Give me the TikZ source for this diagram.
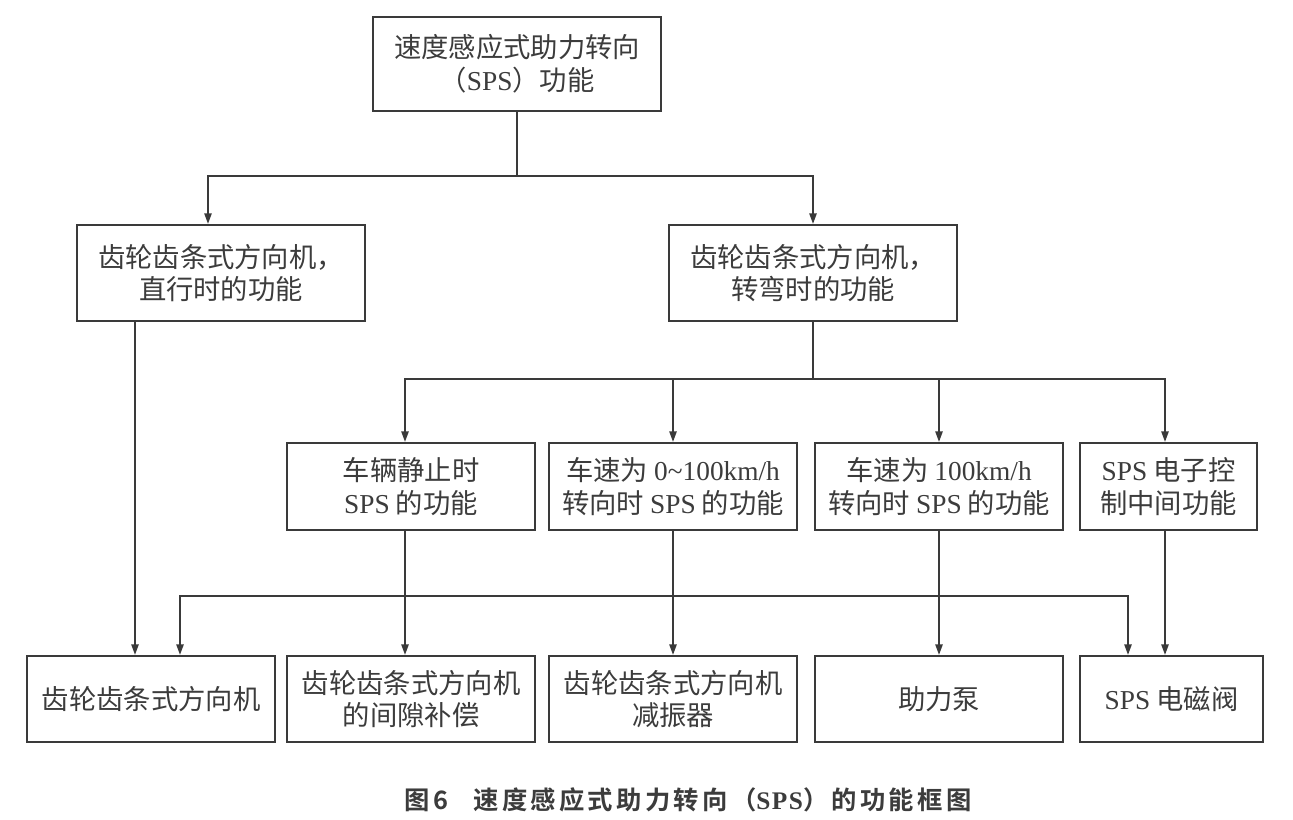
\documentclass[tikz,border=0pt]{standalone}
\usepackage{fontspec}
\setmainfont{Noto Sans CJK SC}
\newfontfamily\cjkb[LetterSpace=13]{Noto Sans CJK SC Bold}
\newfontfamily\latf{Liberation Serif}
\newfontfamily\latfb[LetterSpace=6]{Liberation Serif Bold}
\usetikzlibrary{arrows.meta}
\definecolor{ink}{HTML}{3A3A3A}
\definecolor{txt}{HTML}{3C3C3C}
\tikzset{
  fbox/.style={draw=ink, line width=1.6pt, fill=white, align=center, inner sep=0pt,
    text=txt, font=\fontsize{20.5pt}{24.5pt}\selectfont},
  conn/.style={draw=ink, line width=1.3pt},
  arr/.style={conn, -{Triangle[length=8pt,width=5.5pt]}},
  darr/.style={conn, {Triangle[length=8pt,width=5.5pt]}-{Triangle[length=8pt,width=5.5pt]}}
}
\begin{document}
\begin{tikzpicture}[x=0.75pt,y=-0.75pt]
\useasboundingbox[fill=white] (0,0) rectangle (1293,820);
% level 1
\node[fbox, minimum width=288*0.75pt, minimum height=94*0.75pt] (top) at (517,64)
  {速度感应式助力转向\\（{\latf SPS}）功能};
% level 2
\node[fbox, minimum width=288*0.75pt, minimum height=96*0.75pt] (L1) at (221,273)
  {齿轮齿条式方向机，\\直行时的功能};
\node[fbox, minimum width=288*0.75pt, minimum height=96*0.75pt] (R1) at (813,273)
  {齿轮齿条式方向机，\\转弯时的功能};
% level 3
\node[fbox, minimum width=248*0.75pt, minimum height=87*0.75pt] (A) at (411,486.5)
  {车辆静止时\\{\latf SPS} 的功能};
\node[fbox, minimum width=248*0.75pt, minimum height=87*0.75pt] (B) at (673,486.5)
  {车速为 {\latf 0\char`~100km/h}\\转向时 {\latf SPS} 的功能};
\node[fbox, minimum width=248*0.75pt, minimum height=87*0.75pt] (C) at (939,486.5)
  {车速为 {\latf 100km/h}\\转向时 {\latf SPS} 的功能};
\node[fbox, minimum width=177*0.75pt, minimum height=87*0.75pt] (D) at (1168.5,486.5)
  {{\latf SPS} 电子控\\制中间功能};
% level 4
\node[fbox, minimum width=248*0.75pt, minimum height=86*0.75pt] (E) at (151,699)
  {齿轮齿条式方向机};
\node[fbox, minimum width=248*0.75pt, minimum height=86*0.75pt] (F) at (411,699)
  {齿轮齿条式方向机\\的间隙补偿};
\node[fbox, minimum width=248*0.75pt, minimum height=86*0.75pt] (G) at (673,699)
  {齿轮齿条式方向机\\减振器};
\node[fbox, minimum width=248*0.75pt, minimum height=86*0.75pt] (H) at (939,699)
  {助力泵};
\node[fbox, minimum width=183*0.75pt, minimum height=86*0.75pt] (I) at (1171.5,699)
  {{\latf SPS} 电磁阀};
% connectors top -> level 2
\draw[conn] (top.south) -- ++(0,64) coordinate (t1);
\draw[arr] (t1) -| ([xshift=-13*0.75pt]L1.north);
\draw[arr] (t1) -| (R1.north);
% R1 -> level 3
\draw[conn] (R1.south) -- ++(0,57) coordinate (r1);
\draw[arr] (r1) -| ([xshift=-6*0.75pt]A.north);
\draw[arr] (r1) -| (B.north);
\draw[arr] (r1) -| (C.north);
\draw[arr] (r1) -| ([xshift=-3.5*0.75pt]D.north);
% level 3 -> level 4
\draw[arr] ([xshift=-86*0.75pt]L1.south) -- ([xshift=-16*0.75pt]E.north);
\draw[arr] ([xshift=-6*0.75pt]A.south) -- ([xshift=-6*0.75pt]F.north);
\draw[arr] (B.south) -- (G.north);
\draw[arr] (C.south) -- (H.north);
\draw[arr] ([xshift=-3.5*0.75pt]D.south) -- ([xshift=-6.5*0.75pt]I.north);
% cross link between E and I
\draw[darr] ([xshift=29*0.75pt]E.north) -- ++(0,-59) -| ([xshift=-43.5*0.75pt]I.north);
% caption
\node[text=txt, font=\cjkb\fontsize{19pt}{22pt}\selectfont] (cap) at (688,800)
  {图6\hspace{1em}速度感应式助力转向（{\latfb SPS}）的功能框图};
\end{tikzpicture}
\end{document}
